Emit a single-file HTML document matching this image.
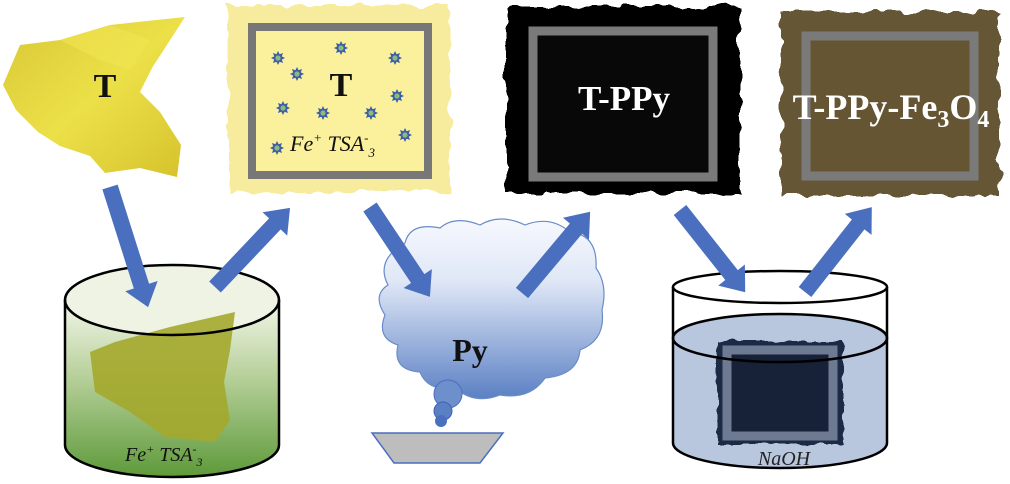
<!DOCTYPE html>
<html><head><style>html,body{margin:0;padding:0;background:#fff;width:1010px;height:484px;overflow:hidden}</style></head>
<body>
<svg width="1010" height="484" viewBox="0 0 1010 484" xmlns="http://www.w3.org/2000/svg" font-family="Liberation Serif, serif">
<defs>
<filter id="rough" x="-5%" y="-5%" width="110%" height="110%">
<feTurbulence type="fractalNoise" baseFrequency="0.06" numOctaves="2" seed="3"/>
<feDisplacementMap in="SourceGraphic" scale="12"/>
</filter>
<filter id="rough2" x="-5%" y="-5%" width="110%" height="110%">
<feTurbulence type="fractalNoise" baseFrequency="0.08" numOctaves="2" seed="7"/>
<feDisplacementMap in="SourceGraphic" scale="7"/>
</filter>
<linearGradient id="yel" x1="0" y1="0" x2="1" y2="1"><stop offset="0" stop-color="#d8c835"/><stop offset="0.5" stop-color="#ece048"/><stop offset="1" stop-color="#d6c22c"/></linearGradient>
<linearGradient id="green" x1="0" y1="0" x2="0" y2="1"><stop offset="0" stop-color="#f2f6ea"/><stop offset="0.4" stop-color="#bcd3a0"/><stop offset="1" stop-color="#5e9a3a"/></linearGradient>
<linearGradient id="cloud" x1="0" y1="0" x2="0" y2="1"><stop offset="0" stop-color="#f6f8fd"/><stop offset="0.35" stop-color="#dfe7f6"/><stop offset="1" stop-color="#5b80c4"/></linearGradient>
<g id="star"><polygon points="0,-7 1.6,-3.8 5,-5 3.8,-1.6 7,0 3.8,1.6 5,5 1.6,3.8 0,7 -1.6,3.8 -5,5 -3.8,1.6 -7,0 -3.8,-1.6 -5,-5 -1.6,-3.8" fill="#3a5ea8"/><circle r="2.6" fill="#8fb87a"/></g>
</defs>

<!-- crumpled T -->
<polygon points="3,85 20,45 60,40 110,25 185,17 152,68 140,92 160,112 181,145 177,177 140,168 105,173 90,156 60,146 38,132 16,110" fill="url(#yel)"/>
<polygon points="60,40 110,25 150,40 130,70 100,60" fill="#f0e452" opacity="0.6"/>
<text x="105" y="97" font-size="34" font-weight="bold" text-anchor="middle" fill="#111">T</text>

<!-- box 2 yellow -->
<rect x="228" y="6" width="222" height="186" fill="#f7ec9e" filter="url(#rough)"/>
<rect x="252" y="27" width="176" height="148" fill="#fbf09c" stroke="#777" stroke-width="8"/>
<text x="341" y="96" font-size="34" font-weight="bold" text-anchor="middle" fill="#111">T</text>
<use href="#star" x="278" y="58"/><use href="#star" x="341" y="48"/><use href="#star" x="395" y="58"/>
<use href="#star" x="297" y="74"/><use href="#star" x="397" y="96"/><use href="#star" x="283" y="108"/>
<use href="#star" x="323" y="113"/><use href="#star" x="371" y="113"/><use href="#star" x="405" y="135"/><use href="#star" x="277" y="148"/>
<text x="290" y="151" font-size="22" font-style="italic" fill="#111">Fe<tspan font-size="13" dy="-9">+</tspan><tspan dy="9"> TSA</tspan><tspan font-size="13" dy="-9">-</tspan><tspan font-size="13" dy="15">3</tspan></text>

<!-- black box -->
<rect x="506" y="7" width="234" height="186" fill="#050505" filter="url(#rough)"/>
<rect x="533" y="31" width="180" height="146" fill="#080808" stroke="#7a7a7a" stroke-width="9"/>
<text x="624" y="110" font-size="35" font-weight="bold" text-anchor="middle" fill="#fff">T-PPy</text>

<!-- brown box -->
<rect x="781" y="12" width="218" height="184" fill="#655635" filter="url(#rough)"/>
<rect x="806" y="36" width="168" height="140" fill="#665533" stroke="#7a7a7a" stroke-width="9"/>
<text x="891" y="119" font-size="36" font-weight="bold" text-anchor="middle" fill="#fff">T-PPy-Fe<tspan font-size="24" dy="8">3</tspan><tspan dy="-8">O</tspan><tspan font-size="24" dy="8">4</tspan></text>

<!-- beaker 1 -->
<path d="M65,300 L65,445 A107,32 0 0 0 279,445 L279,300 Z" fill="url(#green)"/>
<ellipse cx="172" cy="300" rx="107" ry="35" fill="#eef3e4"/>
<polygon points="115,342 170,327 235,312 230,350 224,382 230,420 215,442 165,437 130,412 95,392 90,352" fill="#a4a92c" opacity="0.9"/>
<ellipse cx="172" cy="300" rx="107" ry="35" fill="none" stroke="#000" stroke-width="2.5"/>
<path d="M65,300 L65,445 A107,32 0 0 0 279,445 L279,300" fill="none" stroke="#000" stroke-width="2.5"/>
<text x="125" y="461" font-size="20" font-style="italic" fill="#111">Fe<tspan font-size="12" dy="-8">+</tspan><tspan dy="8"> TSA</tspan><tspan font-size="12" dy="-8">-</tspan><tspan font-size="12" dy="13">3</tspan></text>

<!-- cloud -->
<path d="M405,243 Q410,222 440,228 Q455,215 480,225 Q500,213 525,225 Q550,215 570,232 Q598,235 596,268 Q608,285 602,310 Q606,340 580,350 Q578,375 545,378 Q530,400 500,395 Q475,405 455,388 Q428,392 420,372 Q392,370 398,345 Q376,338 385,315 Q372,295 388,285 Q375,260 405,243 Z" fill="url(#cloud)" stroke="#6a8cc8" stroke-width="1.2"/>
<circle cx="448" cy="394" r="14" fill="#6d8fcc" stroke="#4a6fbf"/>
<circle cx="443" cy="411" r="9" fill="#5b7fc4" stroke="#3d62ad"/>
<circle cx="441" cy="421" r="6" fill="#4a6fbf"/>
<text x="470" y="361" font-size="32" font-weight="bold" text-anchor="middle" fill="#111">Py</text>
<polygon points="372,433 503,433 480,463 394,463" fill="#bdbdbd" stroke="#4a6fbf" stroke-width="1.5"/>

<!-- beaker 3 -->
<path d="M673,338 L673,443 A107,25 0 0 0 887,443 L887,338 Z" fill="#b8c6de"/>
<ellipse cx="780" cy="338" rx="107" ry="24" fill="#b8c6de"/>
<rect x="717" y="341" width="126" height="103" fill="#1b2a45" filter="url(#rough2)"/>
<rect x="727" y="350" width="106" height="86" fill="#172238" stroke="#6e7a92" stroke-width="9"/>
<ellipse cx="780" cy="338" rx="107" ry="24" fill="none" stroke="#000" stroke-width="2.5"/>
<ellipse cx="780" cy="287" rx="107" ry="16" fill="none" stroke="#000" stroke-width="2.5"/>
<path d="M673,287 L673,443 A107,25 0 0 0 887,443 L887,287" fill="none" stroke="#000" stroke-width="2.5"/>
<text x="784" y="465" font-size="20" font-style="italic" text-anchor="middle" fill="#222">NaOH</text>

<!-- arrows -->
<g fill="#4a6fbf">
<g transform="translate(110,187) rotate(72.4)"><polygon points="0,-8 104,-8 104,-17 126,0 104,17 104,8 0,8"/></g>
<g transform="translate(215,287) rotate(-46.5)"><polygon points="0,-8 87,-8 87,-17 109,0 87,17 87,8 0,8"/></g>
<g transform="translate(370,207) rotate(56.3)"><polygon points="0,-8 86,-8 86,-17 108,0 86,17 86,8 0,8"/></g>
<g transform="translate(522,293) rotate(-50)"><polygon points="0,-8 84,-8 84,-17 106,0 84,17 84,8 0,8"/></g>
<g transform="translate(680,210) rotate(51.6)"><polygon points="0,-8 83,-8 83,-17 105,0 83,17 83,8 0,8"/></g>
<g transform="translate(805,292) rotate(-51.8)"><polygon points="0,-8 86,-8 86,-17 108,0 86,17 86,8 0,8"/></g>
</g>
</svg>
</body></html>
